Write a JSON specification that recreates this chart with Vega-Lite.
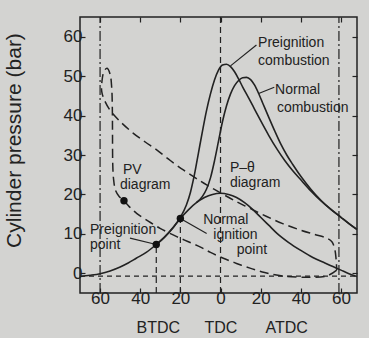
{
  "$schema": "https://vega.github.io/schema/vega-lite/v6.json",
  "width": 277,
  "height": 276,
  "autosize": {"type": "none"},
  "padding": {"left": 80, "top": 17, "right": 12, "bottom": 45},
  "background": "#d3d3d1",
  "config": {
    "view": {"stroke": "#222", "strokeWidth": 1.5},
    "font": "Liberation Sans",
    "axis": {"grid": false, "domain": false, "tickColor": "#222", "tickSize": -5, "tickWidth": 1.2, "labelColor": "#222", "labelFont": "Liberation Sans", "labelFontSize": 17, "titleFont": "Liberation Sans"}
  },
  "datasets": {
    "curves": [
      {"series": "motoring", "x": -70, "y": -0.8}, {"series": "motoring", "x": -65, "y": -0.5}, {"series": "motoring", "x": -60, "y": -0.1}, {"series": "motoring", "x": -55, "y": 0.6}, {"series": "motoring", "x": -50, "y": 1.6}, {"series": "motoring", "x": -46, "y": 2.6}, {"series": "motoring", "x": -42, "y": 3.8}, {"series": "motoring", "x": -37, "y": 5.3}, {"series": "motoring", "x": -32, "y": 7.3}, {"series": "motoring", "x": -28, "y": 9.1}, {"series": "motoring", "x": -24, "y": 11.3}, {"series": "motoring", "x": -20, "y": 13.9}, {"series": "motoring", "x": -16, "y": 16.1}, {"series": "motoring", "x": -12, "y": 17.9}, {"series": "motoring", "x": -8, "y": 19.2}, {"series": "motoring", "x": -4, "y": 20.0}, {"series": "motoring", "x": 0, "y": 20.3}, {"series": "motoring", "x": 4, "y": 20.0}, {"series": "motoring", "x": 8, "y": 19.2}, {"series": "motoring", "x": 12, "y": 17.9}, {"series": "motoring", "x": 16, "y": 16.2}, {"series": "motoring", "x": 20, "y": 14.2}, {"series": "motoring", "x": 24, "y": 12.2}, {"series": "motoring", "x": 28, "y": 10.2}, {"series": "motoring", "x": 34, "y": 7.8}, {"series": "motoring", "x": 40, "y": 5.8}, {"series": "motoring", "x": 46, "y": 4.0}, {"series": "motoring", "x": 52, "y": 2.6}, {"series": "motoring", "x": 56, "y": 1.7}, {"series": "motoring", "x": 60, "y": 0.8}, {"series": "motoring", "x": 64, "y": -0.1}, {"series": "motoring", "x": 68, "y": -0.8},
      {"series": "preignition", "x": -32, "y": 7.3}, {"series": "preignition", "x": -28, "y": 9.1}, {"series": "preignition", "x": -24, "y": 11.4}, {"series": "preignition", "x": -20, "y": 14.2}, {"series": "preignition", "x": -17, "y": 17.3}, {"series": "preignition", "x": -15, "y": 20.5}, {"series": "preignition", "x": -13, "y": 25.0}, {"series": "preignition", "x": -11, "y": 30.5}, {"series": "preignition", "x": -9, "y": 36.0}, {"series": "preignition", "x": -7, "y": 41.2}, {"series": "preignition", "x": -5, "y": 45.5}, {"series": "preignition", "x": -3, "y": 49.0}, {"series": "preignition", "x": -1, "y": 51.5}, {"series": "preignition", "x": 1, "y": 52.8}, {"series": "preignition", "x": 3, "y": 53.0}, {"series": "preignition", "x": 5, "y": 52.4}, {"series": "preignition", "x": 7, "y": 51.1}, {"series": "preignition", "x": 9, "y": 49.3}, {"series": "preignition", "x": 11, "y": 47.3}, {"series": "preignition", "x": 14, "y": 44.5}, {"series": "preignition", "x": 17, "y": 41.6}, {"series": "preignition", "x": 20, "y": 38.7}, {"series": "preignition", "x": 24, "y": 35.0}, {"series": "preignition", "x": 28, "y": 31.6}, {"series": "preignition", "x": 32, "y": 28.6}, {"series": "preignition", "x": 36, "y": 26.0}, {"series": "preignition", "x": 40, "y": 23.7}, {"series": "preignition", "x": 45, "y": 20.9}, {"series": "preignition", "x": 50, "y": 18.4}, {"series": "preignition", "x": 55, "y": 16.2}, {"series": "preignition", "x": 60, "y": 14.2}, {"series": "preignition", "x": 64, "y": 12.6}, {"series": "preignition", "x": 68, "y": 11.1},
      {"series": "normal", "x": -12, "y": 17.9}, {"series": "normal", "x": -9, "y": 19.5}, {"series": "normal", "x": -7, "y": 21.3}, {"series": "normal", "x": -5, "y": 24.2}, {"series": "normal", "x": -3, "y": 28.5}, {"series": "normal", "x": -1, "y": 33.5}, {"series": "normal", "x": 1, "y": 38.5}, {"series": "normal", "x": 3, "y": 42.5}, {"series": "normal", "x": 5, "y": 45.5}, {"series": "normal", "x": 7, "y": 47.6}, {"series": "normal", "x": 9, "y": 48.9}, {"series": "normal", "x": 11, "y": 49.6}, {"series": "normal", "x": 13, "y": 49.7}, {"series": "normal", "x": 15, "y": 49.1}, {"series": "normal", "x": 17, "y": 47.7}, {"series": "normal", "x": 19, "y": 45.6}, {"series": "normal", "x": 21, "y": 43.2}, {"series": "normal", "x": 24, "y": 39.6}, {"series": "normal", "x": 27, "y": 36.1}, {"series": "normal", "x": 30, "y": 32.8}, {"series": "normal", "x": 33, "y": 30.0}, {"series": "normal", "x": 36, "y": 27.6}, {"series": "normal", "x": 40, "y": 24.6}, {"series": "normal", "x": 45, "y": 21.3}, {"series": "normal", "x": 50, "y": 18.5}, {"series": "normal", "x": 55, "y": 16.2}, {"series": "normal", "x": 60, "y": 14.2}, {"series": "normal", "x": 64, "y": 12.6}, {"series": "normal", "x": 68, "y": 11.1}
    ],
    "pv": [
      {"i": 0, "x": 57.9, "y": 0.8}, {"i": 1, "x": 52.9, "y": -0.7}, {"i": 2, "x": 42.9, "y": -1.0}, {"i": 3, "x": 31.3, "y": -0.7}, {"i": 4, "x": 22, "y": 0.2}, {"i": 5, "x": 14.7, "y": 1.3}, {"i": 6, "x": 8, "y": 2.5}, {"i": 7, "x": 1.4, "y": 3.8}, {"i": 8, "x": -5, "y": 5.3}, {"i": 9, "x": -10.2, "y": 6.7}, {"i": 10, "x": -16, "y": 8.0}, {"i": 11, "x": -21.8, "y": 9.3}, {"i": 12, "x": -30.1, "y": 11.4}, {"i": 13, "x": -36, "y": 13.2}, {"i": 14, "x": -41.8, "y": 15.2}, {"i": 15, "x": -45.5, "y": 16.9}, {"i": 16, "x": -48.1, "y": 18.4}, {"i": 17, "x": -50.5, "y": 19.5}, {"i": 18, "x": -52.3, "y": 21.0}, {"i": 19, "x": -53.3, "y": 24.0}, {"i": 20, "x": -53.7, "y": 28.0}, {"i": 21, "x": -53.8, "y": 35.0}, {"i": 22, "x": -53.9, "y": 42.0}, {"i": 23, "x": -54.2, "y": 47.0}, {"i": 24, "x": -55, "y": 50.5}, {"i": 25, "x": -56.5, "y": 52.0}, {"i": 26, "x": -58, "y": 51.3}, {"i": 27, "x": -59.1, "y": 48.5}, {"i": 28, "x": -59.2, "y": 46.2}, {"i": 29, "x": -58.3, "y": 44.5}, {"i": 30, "x": -55.1, "y": 41.4}, {"i": 31, "x": -50, "y": 38.5}, {"i": 32, "x": -43.4, "y": 35.5}, {"i": 33, "x": -37.5, "y": 33.3}, {"i": 34, "x": -31.8, "y": 31.3}, {"i": 35, "x": -25, "y": 28.6}, {"i": 36, "x": -18.5, "y": 26.2}, {"i": 37, "x": -12.5, "y": 24.2}, {"i": 38, "x": -6.9, "y": 22.4}, {"i": 39, "x": 0, "y": 20.4}, {"i": 40, "x": 6.4, "y": 18.6}, {"i": 41, "x": 14.5, "y": 16.5}, {"i": 42, "x": 23, "y": 14.4}, {"i": 43, "x": 31, "y": 12.6}, {"i": 44, "x": 39.6, "y": 11.0}, {"i": 45, "x": 46.5, "y": 9.9}, {"i": 46, "x": 52.9, "y": 8.9}, {"i": 47, "x": 55.5, "y": 8.0}, {"i": 48, "x": 57, "y": 5.9}, {"i": 49, "x": 57.6, "y": 3.5}, {"i": 50, "x": 57.9, "y": 0.8}
    ],
    "dashdot": [{"x": -60, "y1": -5, "y2": 65}, {"x": 59, "y1": -5, "y2": 65}],
    "dashed": [{"x": 0, "y1": -5, "y2": 65}, {"x": -32, "y1": -5, "y2": 7.3}, {"x": -20, "y1": -5, "y2": 13.9}],
    "baseline": [{"x1": -70, "x2": 68, "y": -0.7}],
    "leaders": [
      {"x": 17.9, "y": 57.9, "x2": 5, "y2": 52.6},
      {"x": 26.8, "y": 47.2, "x2": 19, "y2": 45.6},
      {"x": -45.1, "y": 8.9, "x2": -32, "y2": 7.3},
      {"x": -20, "y": 13.9, "x2": -6.9, "y2": 10.1}
    ],
    "dots": [{"x": -32, "y": 7.3}, {"x": -20, "y": 13.9}, {"x": -48.1, "y": 18.4}],
    "labels": [
      {"x": 18.7, "y": 58.3, "t": "Preignition"}, {"x": 18.7, "y": 53.8, "t": "combustion"},
      {"x": 27.2, "y": 46.5, "t": "Normal"}, {"x": 28.1, "y": 41.8, "t": "combustion"},
      {"x": -48.6, "y": 26.2, "t": "PV"}, {"x": -50.1, "y": 22.4, "t": "diagram"},
      {"x": 4.7, "y": 26.6, "t": "P–θ"}, {"x": 4.7, "y": 22.8, "t": "diagram"},
      {"x": -65, "y": 11.0, "t": "Preignition"}, {"x": -65, "y": 7.2, "t": "point"},
      {"x": -8.6, "y": 13.5, "t": "Normal"}, {"x": -3.6, "y": 9.7, "t": "ignition"}, {"x": 8.1, "y": 5.9, "t": "point"}
    ],
    "bottom": [{"x": -31, "y": -14, "t": "BTDC"}, {"x": 0.2, "y": -14, "t": "TDC"}, {"x": 33, "y": -14, "t": "ATDC"}]
  },
  "layer": [
    {
      "data": {"name": "curves"},
      "mark": {"type": "line", "color": "#222", "strokeWidth": 1.6, "interpolate": "monotone"},
      "encoding": {
        "x": {"field": "x", "type": "quantitative", "scale": {"domain": [-70, 68], "nice": false, "zero": false},
              "axis": {"orient": "bottom", "values": [-60, -40, -20, 0, 20, 40, 60], "labelExpr": "abs(datum.value)", "title": null, "labelPadding": 2}},
        "y": {"field": "y", "type": "quantitative", "scale": {"domain": [-5, 65], "nice": false, "zero": false},
              "axis": {"orient": "left", "values": [0, 10, 20, 30, 40, 50, 60], "title": "Cylinder pressure (bar)", "titleFontSize": 21, "titleFontWeight": "normal", "titleColor": "#222", "titleX": -66, "titleY": 123, "titleAngle": -90, "titleAlign": "center", "titleBaseline": "middle", "labelPadding": 3}},
        "detail": {"field": "series"}
      }
    },
    {
      "data": {"name": "pv"},
      "mark": {"type": "line", "color": "#222", "strokeWidth": 1.5, "strokeDash": [9, 5], "interpolate": "catmull-rom"},
      "encoding": {
        "x": {"field": "x", "type": "quantitative", "scale": {"domain": [-70, 68], "nice": false, "zero": false},
              "axis": {"orient": "top", "values": [-60, -40, -20, 0, 20, 40, 60], "labels": false, "title": null}},
        "y": {"field": "y", "type": "quantitative", "scale": {"domain": [-5, 65], "nice": false, "zero": false},
              "axis": {"orient": "right", "values": [0, 10, 20, 30, 40, 50, 60], "labels": false, "title": null}},
        "order": {"field": "i"}
      }
    },
    {
      "data": {"name": "dashdot"},
      "mark": {"type": "rule", "color": "#222", "strokeWidth": 1.2, "strokeDash": [10, 3, 2, 3]},
      "encoding": {
        "x": {"field": "x", "type": "quantitative", "scale": {"domain": [-70, 68], "nice": false, "zero": false}, "axis": null},
        "y": {"field": "y1", "type": "quantitative", "scale": {"domain": [-5, 65], "nice": false, "zero": false}, "axis": null},
        "y2": {"field": "y2"}
      }
    },
    {
      "data": {"name": "dashed"},
      "mark": {"type": "rule", "color": "#222", "strokeWidth": 1.2, "strokeDash": [6, 4]},
      "encoding": {
        "x": {"field": "x", "type": "quantitative", "scale": {"domain": [-70, 68], "nice": false, "zero": false}, "axis": null},
        "y": {"field": "y1", "type": "quantitative", "scale": {"domain": [-5, 65], "nice": false, "zero": false}, "axis": null},
        "y2": {"field": "y2"}
      }
    },
    {
      "data": {"name": "baseline"},
      "mark": {"type": "rule", "color": "#222", "strokeWidth": 1.2, "strokeDash": [5, 4]},
      "encoding": {
        "x": {"field": "x1", "type": "quantitative", "scale": {"domain": [-70, 68], "nice": false, "zero": false}, "axis": null},
        "x2": {"field": "x2"},
        "y": {"field": "y", "type": "quantitative", "scale": {"domain": [-5, 65], "nice": false, "zero": false}, "axis": null}
      }
    },
    {
      "data": {"name": "leaders"},
      "mark": {"type": "rule", "color": "#222", "strokeWidth": 1.2},
      "encoding": {
        "x": {"field": "x", "type": "quantitative", "scale": {"domain": [-70, 68], "nice": false, "zero": false}, "axis": null},
        "y": {"field": "y", "type": "quantitative", "scale": {"domain": [-5, 65], "nice": false, "zero": false}, "axis": null},
        "x2": {"field": "x2"},
        "y2": {"field": "y2"}
      }
    },
    {
      "data": {"name": "dots"},
      "mark": {"type": "point", "filled": true, "color": "#111", "size": 55, "opacity": 1},
      "encoding": {
        "x": {"field": "x", "type": "quantitative", "scale": {"domain": [-70, 68], "nice": false, "zero": false}, "axis": null},
        "y": {"field": "y", "type": "quantitative", "scale": {"domain": [-5, 65], "nice": false, "zero": false}, "axis": null}
      }
    },
    {
      "data": {"name": "labels"},
      "mark": {"type": "text", "align": "left", "baseline": "middle", "fontSize": 14, "color": "#222", "font": "Liberation Sans"},
      "encoding": {
        "x": {"field": "x", "type": "quantitative", "scale": {"domain": [-70, 68], "nice": false, "zero": false}, "axis": null},
        "y": {"field": "y", "type": "quantitative", "scale": {"domain": [-5, 65], "nice": false, "zero": false}, "axis": null},
        "text": {"field": "t"}
      }
    },
    {
      "data": {"name": "bottom"},
      "mark": {"type": "text", "align": "center", "baseline": "middle", "fontSize": 16, "color": "#222", "font": "Liberation Sans"},
      "encoding": {
        "x": {"field": "x", "type": "quantitative", "scale": {"domain": [-70, 68], "nice": false, "zero": false}, "axis": null},
        "y": {"field": "y", "type": "quantitative", "scale": {"domain": [-5, 65], "nice": false, "zero": false}, "axis": null},
        "text": {"field": "t"}
      }
    }
  ],
  "resolve": {"axis": {"x": "independent", "y": "independent"}}
}
